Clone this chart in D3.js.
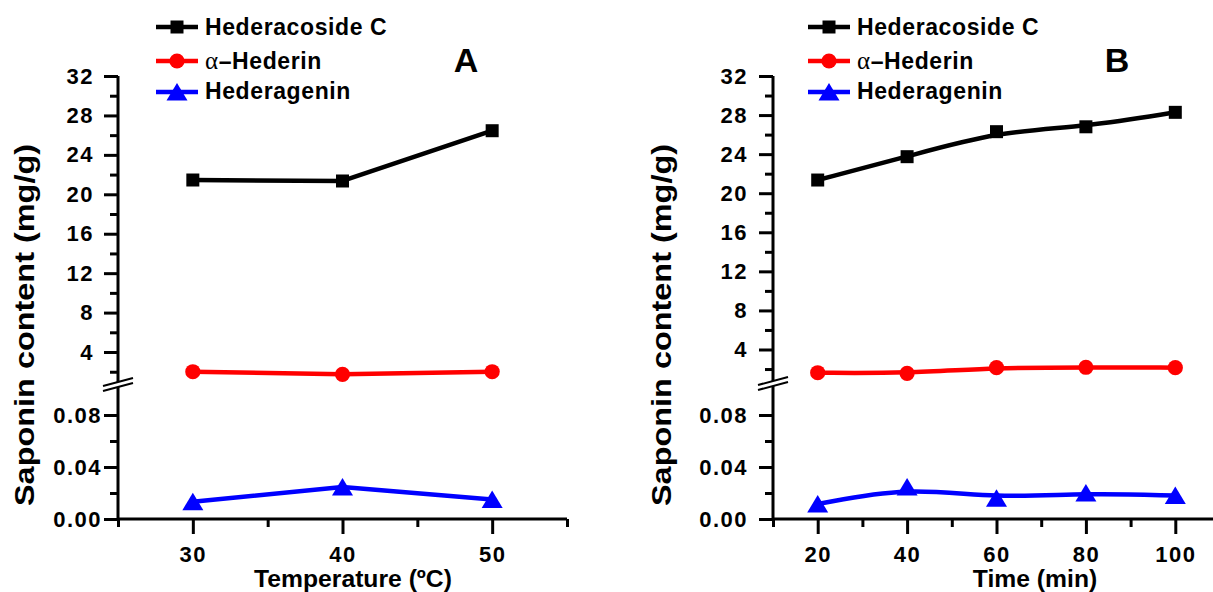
<!DOCTYPE html>
<html><head><meta charset="utf-8">
<script src="https://cdn.jsdelivr.net/npm/d3@7"></script>
<style>
body{margin:0;background:#fff}
text{font-family:"Liberation Sans",Arial,sans-serif;font-weight:bold;fill:#000}
</style>
</head><body>
<svg id="chart" width="1213" height="592"></svg>
<script>
// ---------- data ----------
const seriesNames = ["Hederacoside C", "α–Hederin", "Hederagenin"];
const seriesColors = ["#000000", "#ff0000", "#0000ff"];
const seriesShapes = ["square", "circle", "triangle"];

const tempX = [30, 40, 50];
const tempHederacosideC = [21.45, 21.35, 26.45];
const tempAlphaHederin = [2.0, 1.74, 2.0];
const tempHederagenin = [0.0133, 0.0246, 0.015];

const timeX = [20, 40, 60, 80, 100];
const timeHederacosideC = [21.35, 23.74, 26.3, 26.8, 28.28];
const timeAlphaHederin = [1.62, 1.56, 2.14, 2.18, 2.14];
const timeHederagenin = [0.0115, 0.0246, 0.016, 0.020, 0.018];

const yUpperMajor = [4, 8, 12, 16, 20, 24, 28, 32];
const yUpperMinor = [2, 6, 10, 14, 18, 22, 26, 30];
const yLowerMajor = [0, 0.04, 0.08];
const yLowerMinor = [0.02, 0.06];
const xMajorA = [30, 40, 50];
const xMinorA = [25, 35, 45, 55];
const xMajorB = [20, 40, 60, 80, 100];
const xMinorB = [10, 30, 50, 70, 90, 110];

const yTitle = "Saponin content (mg/g)";
const xTitleA = "Temperature (ºC)";
const xTitleB = "Time (min)";

// ---------- drawing ----------
const svg = d3.select("#chart");

function markerPath(shape) {
  if (shape === "square") return "M-6.5,-6.5H6.5V6.5H-6.5Z";
  if (shape === "triangle") return "M0,-9L10.5,8.5H-10.5Z";
  return d3.symbol(d3.symbolCircle, Math.PI * 7.6 * 7.6)();
}

function panel(cfg) {
  const g = svg.append("g");
  const x = d3.scaleLinear().domain(cfg.xDomain).range(cfg.xRange);
  const yU = d3.scaleLinear().domain([1, 32]).range([cfg.yOne, 76]);
  const yL = d3.scaleLinear().domain([0, 0.1]).range([519, 389]);
  const x0 = cfg.xRange[0];

  const styleAxis = sel => {
    sel.select(".domain").remove();
    sel.selectAll("line").attr("stroke", "#000").attr("stroke-width", 3);
    sel.selectAll("text").style("font-size", "22px").style("letter-spacing", "1.5px")
      .attr("fill", "#000");
  };

  // y axis upper
  g.append("g").attr("transform", `translate(${x0},0)`)
    .call(d3.axisLeft(yU).tickValues(yUpperMajor).tickSize(14).tickPadding(cfg.padU).tickFormat(d3.format("d")))
    .call(styleAxis);
  g.append("g").attr("transform", `translate(${x0},0)`)
    .call(d3.axisLeft(yU).tickValues(yUpperMinor).tickSize(8).tickFormat(""))
    .call(styleAxis);
  // y axis lower
  g.append("g").attr("transform", `translate(${x0},0)`)
    .call(d3.axisLeft(yL).tickValues(yLowerMajor).tickSize(14).tickPadding(cfg.padL).tickFormat(d3.format(".2f")))
    .call(styleAxis);
  g.append("g").attr("transform", `translate(${x0},0)`)
    .call(d3.axisLeft(yL).tickValues(yLowerMinor).tickSize(8).tickFormat(""))
    .call(styleAxis);
  // x axis
  g.append("g").attr("transform", `translate(0,519)`)
    .call(d3.axisBottom(x).tickValues(cfg.xMajor).tickSize(15).tickPadding(12).tickFormat(d3.format("d")))
    .call(styleAxis);
  g.append("g").attr("transform", `translate(0,519)`)
    .call(d3.axisBottom(x).tickValues(cfg.xMinor).tickSize(8).tickFormat(""))
    .call(styleAxis);

  // axis lines
  g.append("line").attr("x1", x0).attr("x2", x0).attr("y1", yU(32)).attr("y2", 519)
    .attr("stroke", "#000").attr("stroke-width", 3);
  g.append("line").attr("x1", x0).attr("x2", cfg.xRange[1]).attr("y1", 519).attr("y2", 519)
    .attr("stroke", "#000").attr("stroke-width", 3);

  // axis break
  const by = cfg.breakY;
  g.append("path")
    .attr("d", `M${x0 - 15},${by + 6} L${x0 + 15},${by - 2} L${x0 + 15},${by - 7} L${x0 - 15},${by + 1} Z`)
    .attr("fill", "#fff");
  [[by + 6, by - 2], [by + 1, by - 7]].forEach(([a, b]) => {
    g.append("line").attr("x1", x0 - 15).attr("y1", a).attr("x2", x0 + 15).attr("y2", b)
      .attr("stroke", "#000").attr("stroke-width", 2);
  });

  // series
  const yFor = [yU, yU, yL];
  cfg.values.forEach((vals, i) => {
    const pts = cfg.xs.map((xv, j) => [x(xv), yFor[i](vals[j])]);
    g.append("path")
      .attr("d", d3.line().curve(cfg.curve)(pts))
      .attr("fill", "none").attr("stroke", seriesColors[i]).attr("stroke-width", 4.5)
      .attr("stroke-linejoin", "round");
    g.selectAll(null).data(pts).enter().append("path")
      .attr("d", markerPath(seriesShapes[i]))
      .attr("transform", d => `translate(${d[0]},${d[1]})`)
      .attr("fill", seriesColors[i]);
  });

  // legend
  const rows = [{ly: 27, ty: 35}, {ly: 61, ty: 69}, {ly: 92, ty: 99}];
  seriesNames.forEach((name, i) => {
    const r = rows[i];
    g.append("line").attr("x1", cfg.legX).attr("x2", cfg.legX + 42)
      .attr("y1", r.ly).attr("y2", r.ly)
      .attr("stroke", seriesColors[i]).attr("stroke-width", 4.5);
    g.append("path").attr("d", markerPath(seriesShapes[i]))
      .attr("transform", `translate(${cfg.legX + 21},${r.ly})`)
      .attr("fill", seriesColors[i]);
    const t = g.append("text").attr("x", cfg.legX + 49).attr("y", r.ty)
      .style("font-size", "23px").style("letter-spacing", "0.6px");
    if (name.startsWith("α")) {
      t.append("tspan").text("α")
        .style("font-family", "'Liberation Serif','Times New Roman',serif")
        .style("font-weight", "normal").style("font-size", "25px");
      t.append("tspan").text(name.slice(1));
    } else {
      t.text(name);
    }
  });

  // panel letter
  g.append("text").attr("x", cfg.letterX).attr("y", 72).attr("text-anchor", "middle")
    .style("font-size", "34px").text(cfg.letter);

  // axis titles
  g.append("text").attr("transform", `translate(${cfg.yTitleX},325) rotate(-90)`)
    .attr("text-anchor", "middle").style("font-size", "28px")
    .attr("textLength", 362).attr("lengthAdjust", "spacingAndGlyphs")
    .text(yTitle);
  g.append("text").attr("x", cfg.xTitleX).attr("y", 587).attr("text-anchor", "middle")
    .style("font-size", "24.7px").text(cfg.xTitle);
}

panel({
  xDomain: [25, 55], xRange: [118, 567], xMajor: xMajorA, xMinor: xMinorA,
  yOne: 381.6, padU: 10, padL: 2, breakY: 385,
  xs: tempX, values: [tempHederacosideC, tempAlphaHederin, tempHederagenin],
  curve: d3.curveLinear, legX: 156, letter: "A", letterX: 466,
  yTitleX: 34, xTitle: xTitleA, xTitleX: 353
});
panel({
  xDomain: [10, 110], xRange: [773, 1220], xMajor: xMajorB, xMinor: xMinorB,
  yOne: 378.8, padU: 11, padL: 11, breakY: 384,
  xs: timeX, values: [timeHederacosideC, timeAlphaHederin, timeHederagenin],
  curve: d3.curveBasis, legX: 808, letter: "B", letterX: 1117,
  yTitleX: 671, xTitle: xTitleB, xTitleX: 1035
});
</script>
</body></html>
